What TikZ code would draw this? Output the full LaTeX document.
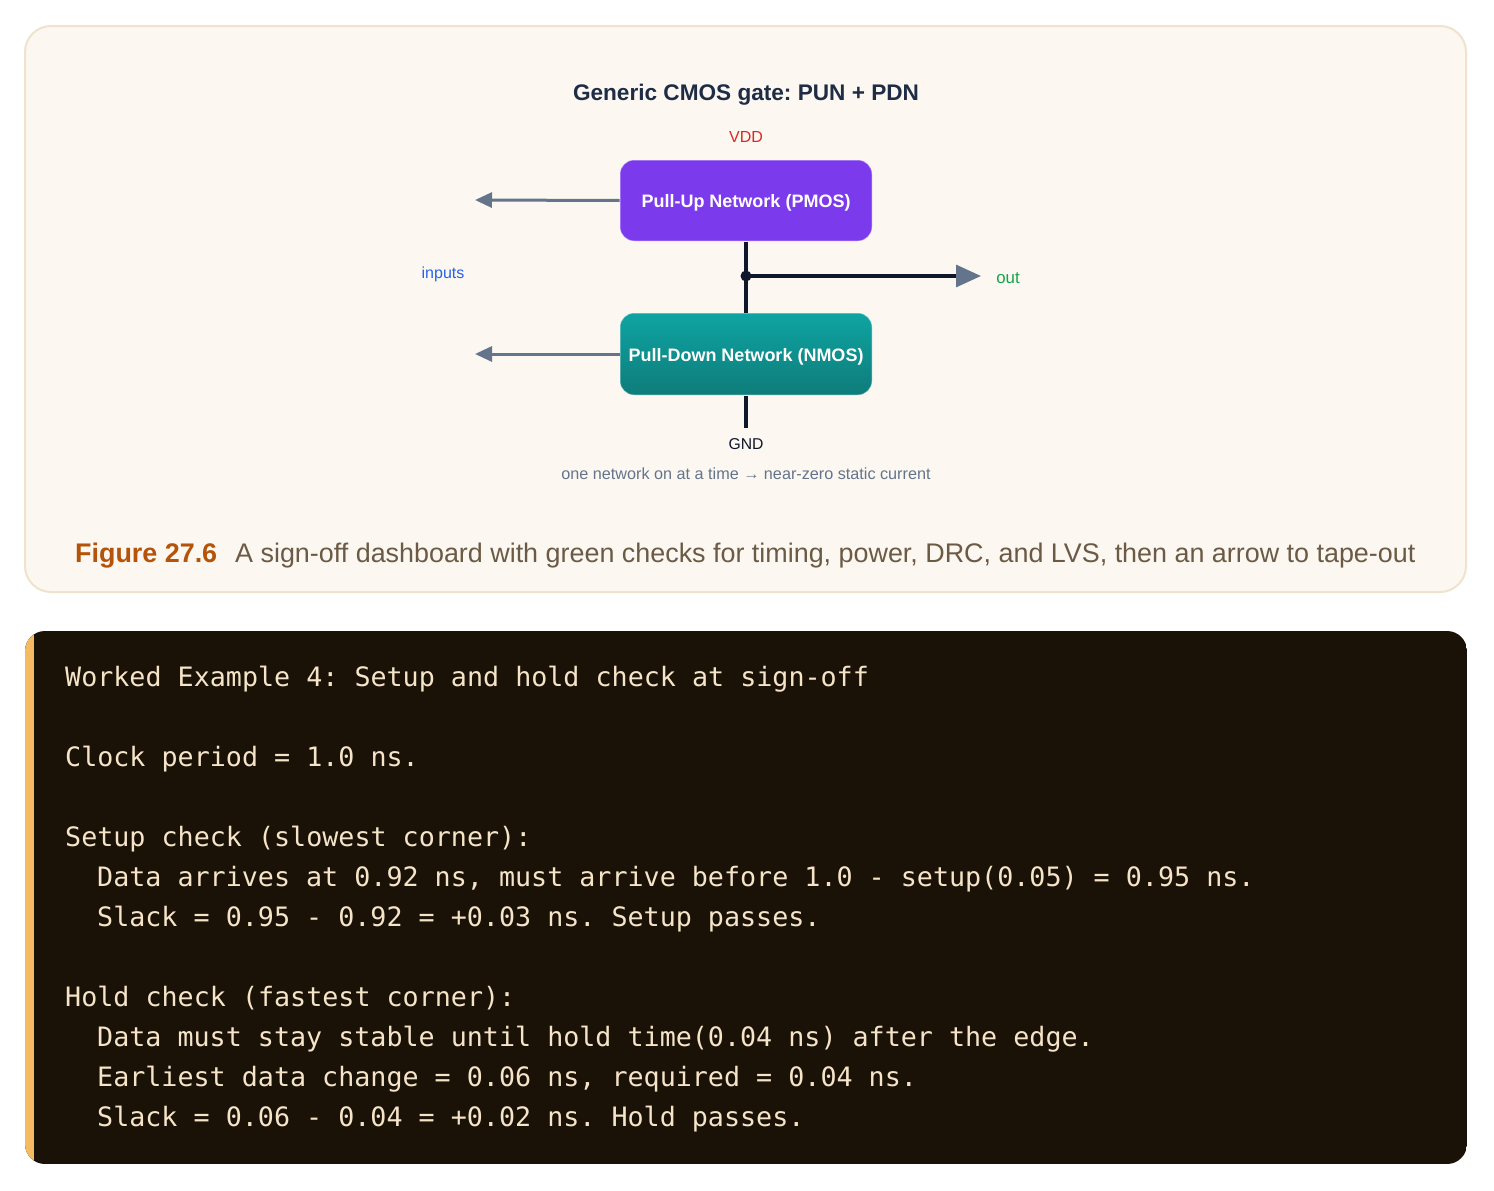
\documentclass[tikz,border=0pt]{standalone}
\usepackage{fontspec}
\setmainfont{Liberation Sans}
\newfontfamily\monof{DejaVu Sans Mono}
\usetikzlibrary{arrows.meta}
\frenchspacing
\definecolor{panelfill}{HTML}{FCF8F1}
\definecolor{panelline}{HTML}{EFE3CD}
\definecolor{titlec}{HTML}{1E2D45}
\definecolor{vddc}{HTML}{DC2626}
\definecolor{inc}{HTML}{2563EB}
\definecolor{outc}{HTML}{16A34A}
\definecolor{wirec}{HTML}{0F172A}
\definecolor{arrowc}{HTML}{64748B}
\definecolor{punc}{HTML}{7C3AED}
\definecolor{pdntop}{HTML}{0EA5A2}
\definecolor{pdnbot}{HTML}{0E7C7A}
\definecolor{figc}{HTML}{B45309}
\definecolor{capc}{HTML}{6B5A45}
\definecolor{darkc}{HTML}{1B1207}
\definecolor{accentc}{HTML}{F6BA62}
\definecolor{codec}{HTML}{F5E4C8}
\tikzset{
  netbox/.style={rounded corners=14pt, minimum width=252pt, inner sep=0pt,
    text=white, font=\fontsize{18}{22}\selectfont\bfseries, draw=white, draw opacity=0.45, line width=1pt},
  lbl/.style={font=\fontsize{16}{19}\selectfont, anchor=base, inner sep=0pt},
  wire/.style={draw=wirec, line width=3.2pt},
  inarrow/.style={draw=arrowc, line width=3pt, -{Triangle[length=17pt,width=15pt]}},
  codeline/.style={anchor=base west, inner sep=0pt, text=codec, font=\monof\fontsize{26.7}{32}\selectfont},
}
\begin{document}
\begin{tikzpicture}[x=1pt,y=-1pt]
\useasboundingbox[fill=white] (0,0) rectangle (1494,1191);
% upper panel
\draw[fill=panelfill, draw=panelline, line width=2pt, rounded corners=26pt] (25,26) rectangle (1466,592);
\node[anchor=base, inner sep=0pt, text=titlec, font=\fontsize{22.6}{27}\selectfont\bfseries] (title) at (746,100) {Generic CMOS gate: PUN + PDN};
\node[lbl, text=vddc] (vdd) at (746,142) {VDD};
\node[netbox, minimum height=81pt, fill=punc] (pun) at (746,200.5) {\raisebox{-7pt}[0pt][0pt]{Pull-Up Network (PMOS)}};
\node[netbox, minimum height=82pt, top color=pdntop, bottom color=pdnbot] (pdn) at (746,354) {\raisebox{-7.5pt}[0pt][0pt]{Pull-Down Network (NMOS)}};
\coordinate (in1) at (475,200);
\coordinate (in2) at (475,354);
\coordinate (junc) at (746,276);
\coordinate (outend) at (981,276);
\coordinate (gndend) at (746,428);
\draw[inarrow] (pun.west) -- (in1);
\draw[inarrow] (pdn.west) -- (in2);
\draw[wire] (pun.south) -- (pdn.north);
\draw[wire, -{Triangle[length=25pt,width=22pt,color=arrowc]}] (junc) -- (outend);
\fill[wirec] (junc) circle (5.5pt);
\draw[wire] (pdn.south) -- (gndend);
\node[lbl, text=inc] (inputs) at (443,278) {inputs};
\node[lbl, text=outc, font=\fontsize{16.8}{19}\selectfont] (out) at (1008,283) {out};
\node[lbl, text=wirec, font=\fontsize{15.7}{19}\selectfont] (gnd) at (746,449) {GND};
\node[lbl, text=arrowc, font=\fontsize{16.2}{19}\selectfont] (note) at (746,479) {one network on at a time → near-zero static current};
\node[anchor=base west, inner sep=0pt, text=figc, font=\fontsize{26.9}{32}\selectfont\bfseries] (fig) at (75,562) {Figure 27.6};
\node[anchor=base west, inner sep=0pt, text=capc, font=\fontsize{26.9}{32}\selectfont] (cap) at (235,562) {A sign-off dashboard with green checks for timing, power, DRC, and LVS, then an arrow to tape-out};
% lower panel
\begin{scope}
\path[clip, rounded corners=20pt] (25,631) rectangle (1467,1164);
\fill[darkc] (25,631) rectangle (1467,1164);
\fill[accentc] (25,631) rectangle (34,1164);
\end{scope}
\node[codeline] (l1) at (65,686) {Worked Example 4: Setup and hold check at sign-off};
\node[codeline] (l2) at (65,766) {Clock period = 1.0 ns.};
\node[codeline] (l3) at (65,846) {Setup check (slowest corner):};
\node[codeline] (l4) at (97,886) {Data arrives at 0.92 ns, must arrive before 1.0 - setup(0.05) = 0.95 ns.};
\node[codeline] (l5) at (97,926) {Slack = 0.95 - 0.92 = +0.03 ns. Setup passes.};
\node[codeline] (l6) at (65,1006) {Hold check (fastest corner):};
\node[codeline] (l7) at (97,1046) {Data must stay stable until hold time(0.04 ns) after the edge.};
\node[codeline] (l8) at (97,1086) {Earliest data change = 0.06 ns, required = 0.04 ns.};
\node[codeline] (l9) at (97,1126) {Slack = 0.06 - 0.04 = +0.02 ns. Hold passes.};
\end{tikzpicture}
\end{document}
